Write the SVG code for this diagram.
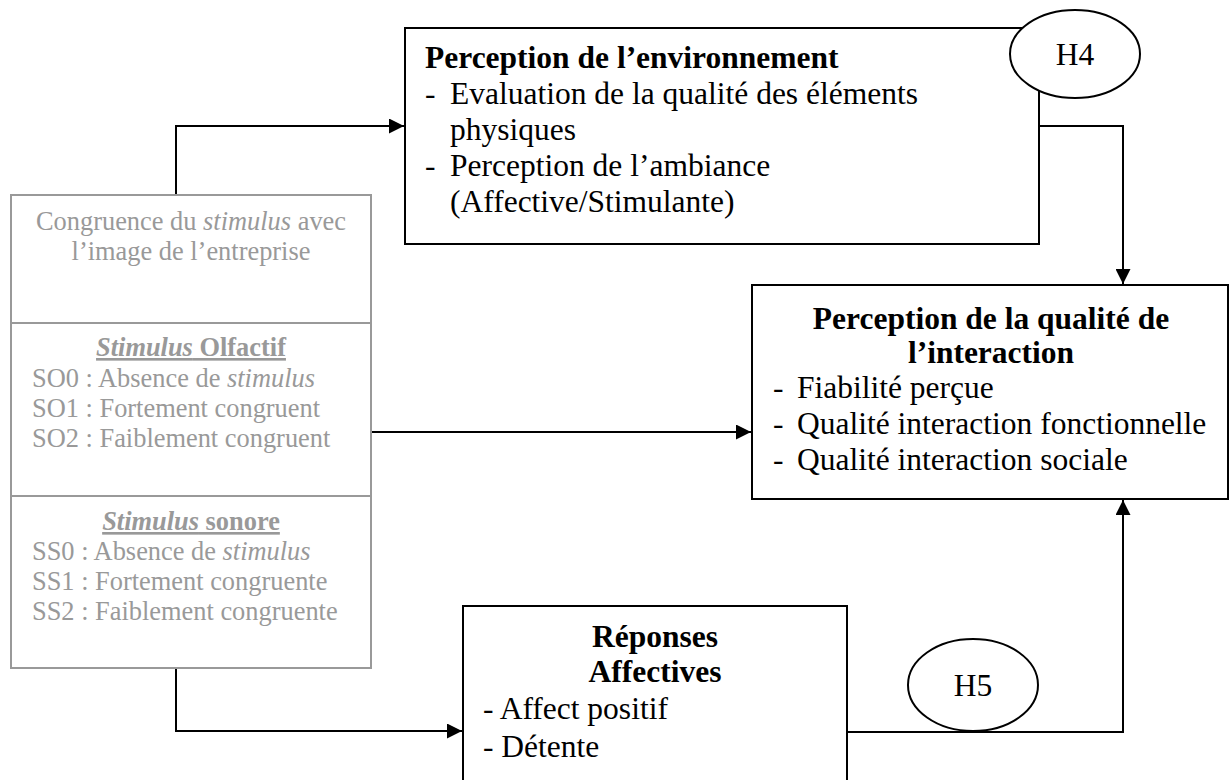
<svg xmlns="http://www.w3.org/2000/svg" width="1230" height="780" viewBox="0 0 1230 780">
<style>
text{font-family:"Liberation Serif","Times New Roman",serif;}
.t{font-size:31.5px;fill:#000;}
.b{font-weight:bold;}
.g{font-size:26.4px;fill:#999;}
.box{fill:#fff;stroke:#000;stroke-width:2;}
.gbox{fill:#fff;stroke:#999;stroke-width:2;}
.ell{fill:#fff;stroke:#000;stroke-width:2;}
.con{fill:none;stroke:#000;stroke-width:2;}
</style>
<defs>
<marker id="arr" markerWidth="15" markerHeight="15" refX="15" refY="7.5" orient="auto" markerUnits="userSpaceOnUse">
<path d="M0,0 L15,7.5 L0,15 Z" fill="#000"/>
</marker>
</defs>
<g id="connectors">
<path class="con" d="M176,195 V126 H404" marker-end="url(#arr)"/>
<path class="con" d="M371,432 H751" marker-end="url(#arr)"/>
<path class="con" d="M176,668 V731 H462" marker-end="url(#arr)"/>
<path class="con" d="M1039,126 H1123 V284" marker-end="url(#arr)"/>
<path class="con" d="M847,732 H1123 V500" marker-end="url(#arr)"/>
</g>
<g id="stimuli">
<rect class="gbox" x="11" y="195" width="360" height="473"/>
<line x1="11" y1="323" x2="371" y2="323" stroke="#999" stroke-width="2"/>
<line x1="11" y1="496" x2="371" y2="496" stroke="#999" stroke-width="2"/>
<text class="g" x="191" y="230" text-anchor="middle">Congruence du <tspan font-style="italic">stimulus</tspan> avec</text>
<text class="g" x="191" y="260" text-anchor="middle">l’image de l’entreprise</text>
<text class="g b" x="191" y="356" text-anchor="middle" text-decoration="underline"><tspan font-style="italic">Stimulus</tspan> Olfactif</text>
<text class="g" x="32" y="387">SO0 : Absence de <tspan font-style="italic">stimulus</tspan></text>
<text class="g" x="32" y="417">SO1 : Fortement congruent</text>
<text class="g" x="32" y="447">SO2 : Faiblement congruent</text>
<text class="g b" x="191" y="530" text-anchor="middle" text-decoration="underline"><tspan font-style="italic">Stimulus</tspan> sonore</text>
<text class="g" x="32" y="560">SS0 : Absence de <tspan font-style="italic">stimulus</tspan></text>
<text class="g" x="32" y="590">SS1 : Fortement congruente</text>
<text class="g" x="32" y="620">SS2 : Faiblement congruente</text>
</g>
<g id="environnement">
<rect class="box" x="405" y="28" width="634" height="216"/>
<text class="t b" x="425" y="68">Perception de l’environnement</text>
<text class="t" x="425" y="104">-</text>
<text class="t" x="450" y="104">Evaluation de la qualité des éléments</text>
<text class="t" x="450" y="140">physiques</text>
<text class="t" x="425" y="176">-</text>
<text class="t" x="450" y="176">Perception de l’ambiance</text>
<text class="t" x="450" y="212">(Affective/Stimulante)</text>
</g>
<g id="h4">
<ellipse class="ell" cx="1075" cy="54" rx="65" ry="44"/>
<text class="t" x="1075" y="65" text-anchor="middle">H4</text>
</g>
<g id="interaction">
<rect class="box" x="752" y="285" width="476" height="214"/>
<text class="t b" x="991" y="329" text-anchor="middle">Perception de la qualité de</text>
<text class="t b" x="991" y="363" text-anchor="middle">l’interaction</text>
<text class="t" x="773" y="398">-</text>
<text class="t" x="797" y="398">Fiabilité perçue</text>
<text class="t" x="773" y="434">-</text>
<text class="t" x="797" y="434">Qualité interaction fonctionnelle</text>
<text class="t" x="773" y="470">-</text>
<text class="t" x="797" y="470">Qualité interaction sociale</text>
</g>
<g id="reponses">
<rect class="box" x="463" y="606" width="384" height="200"/>
<text class="t b" x="655" y="647" text-anchor="middle">Réponses</text>
<text class="t b" x="655" y="682" text-anchor="middle">Affectives</text>
<text class="t" x="483" y="719">- Affect positif</text>
<text class="t" x="483" y="757">- Détente</text>
</g>
<g id="h5">
<ellipse class="ell" cx="973" cy="685" rx="65" ry="46"/>
<text class="t" x="973" y="696" text-anchor="middle">H5</text>
</g>
</svg>
